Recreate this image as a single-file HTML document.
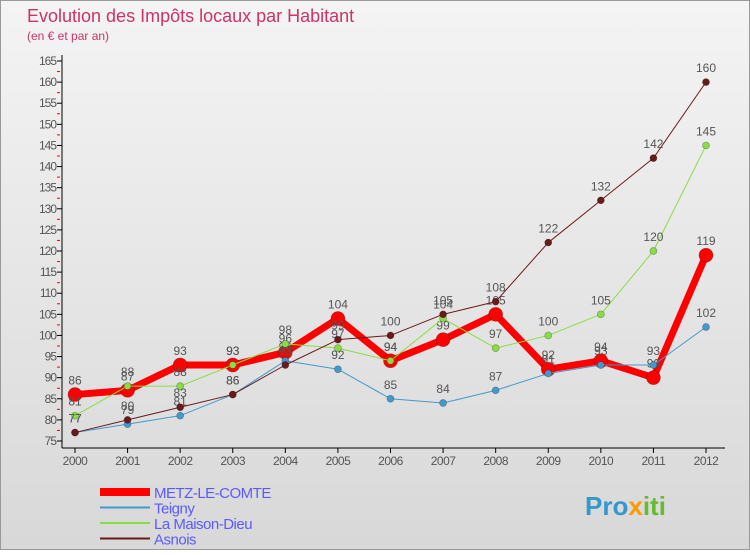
<!DOCTYPE html>
<html><head><meta charset="utf-8"><style>
body{margin:0;width:750px;height:550px;overflow:hidden;font-family:"Liberation Sans",sans-serif}
</style></head><body>
<svg width="750" height="550" xmlns="http://www.w3.org/2000/svg">
<defs><linearGradient id="bg" x1="0" y1="0" x2="0" y2="1"><stop offset="0" stop-color="#f4f4f4"/><stop offset="1" stop-color="#d8d8d8"/></linearGradient></defs>
<rect x="0.5" y="0.5" width="749" height="549" fill="url(#bg)" stroke="#999"/>
<text x="27" y="22" font-size="18" fill="#cc3366">Evolution des Impôts locaux par Habitant</text>
<text x="27" y="40" font-size="12" fill="#cc3366">(en € et par an)</text>
<g id="axes"></g>
<g id="series"></g>
<g id="legend"></g>
<g font-size="26" font-weight="bold">
<text x="585" y="515" fill="#3399cc">Pro<tspan fill="#ff9900">x</tspan><tspan fill="#66bb33">iti</tspan></text>
</g>
</svg>
<script>
const years=[2000,2001,2002,2003,2004,2005,2006,2007,2008,2009,2010,2011,2012];
const yTicks=[75,80,85,90,95,100,105,110,115,120,125,130,135,140,145,150,155,160,165];
const metz=[86,87,93,93,96,104,94,99,105,92,94,90,119];
const teigny=[77,79,81,86,94,92,85,84,87,91,93,93,102];
const maison=[81,88,88,93,98,97,94,104,97,100,105,120,145];
const asnois=[77,80,83,86,93,99,100,105,108,122,132,142,160];
const NS='http://www.w3.org/2000/svg';
const X=i=>75+i*(706-75)/12;
const Y=v=>441-(v-75)*(380/90);
function mk(t,a,p){const e=document.createElementNS(NS,t);for(const k in a)e.setAttribute(k,a[k]);p.appendChild(e);return e;}
const ax=document.getElementById('axes');
const yl=mk('line',{x1:62,y1:55,x2:62,y2:448,stroke:'#000'},ax);


const xl=mk('line',{x1:62,y1:448,x2:725,y2:448,stroke:'#000'},ax);


yTicks.forEach((v,j)=>{
 mk('line',{x1:57,y1:Y(v),x2:62,y2:Y(v),stroke:'#000'},ax);
 if(j<yTicks.length-1) mk('line',{x1:57,y1:Y(v+2.5),x2:60,y2:Y(v+2.5),stroke:'#e00'},ax);
 const t=mk('text',{x:56,y:Y(v)+4,'font-size':12,'text-anchor':'end',fill:'#555','letter-spacing':'-1'},ax);
 t.textContent=v;
 
 
});
years.forEach((y,i)=>{
 mk('line',{x1:X(i),y1:448,x2:X(i),y2:453,stroke:'#000'},ax);
 const t=mk('text',{x:X(i),y:465,'font-size':12,'text-anchor':'middle',fill:'#555','letter-spacing':'-0.5'},ax);
 t.textContent=y;
 
 
});
const sg=document.getElementById('series');
const defs=[
 {d:asnois,c:'#6b1a1a',w:1,r:3.5,n:'asnois'},
 {d:maison,c:'#88dd44',w:1,r:3.5,n:'la-maison-dieu'},
 {d:teigny,c:'#4499cc',w:1,r:3.5,n:'teigny'},
 {d:metz,c:'#ff0000',w:7,r:7,n:'metz-le-comte'}];
const order=[3,2,1,0];
order.forEach(k=>{const s=defs[k];
 const g=mk('g',{},sg);
 
 
 mk('polyline',{points:s.d.map((v,i)=>X(i)+','+Y(v)).join(' '),fill:'none',stroke:s.c,'stroke-width':s.w,'stroke-linejoin':'round'},g);
 s.d.forEach((v,i)=>{
  const p=mk('circle',{cx:X(i),cy:Y(v),r:s.r,fill:s.c,stroke:'rgba(0,0,0,0.3)','stroke-width':0.7},g);
  
  
  const t=mk('text',{x:X(i),y:Y(v)-10,'font-size':12,'text-anchor':'middle',fill:'#555'},g);
  t.textContent=v;
  
  
 });
});
const lg=document.getElementById('legend');
const names=['METZ-LE-COMTE','Teigny','La Maison-Dieu','Asnois'];
[3,2,1,0].forEach((k,j)=>{const s=defs[k];
 const g=mk('g',{},lg);
 
 
 const yy=492+j*15.5;
 mk('line',{x1:100,y1:yy,x2:150,y2:yy,stroke:s.c,'stroke-width':k==3?8:2},g);
 const t=mk('text',{x:154,y:yy+6,'font-size':15,fill:'#5a5aff','letter-spacing':'-0.5'},g);
 t.textContent=names[j];
});
</script>
</body></html>
